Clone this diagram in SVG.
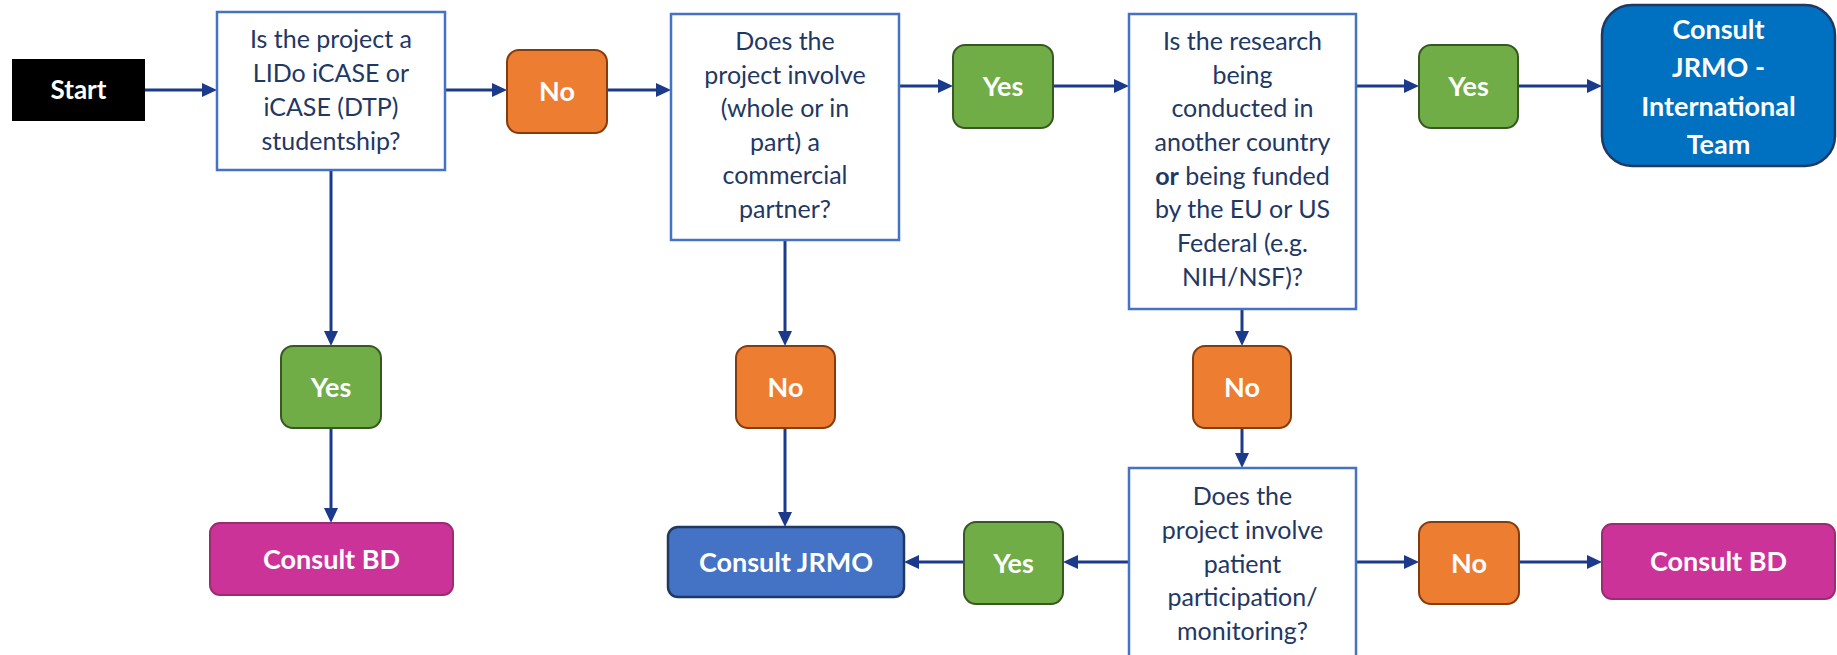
<svg xmlns="http://www.w3.org/2000/svg" width="1837" height="655" viewBox="0 0 1837 655">
<style>
.q{fill:#ffffff;stroke:#4472C4;stroke-width:2.5}
.qt{font-family:Lato,"Open Sans",sans-serif;font-size:25px;fill:#1F3864;text-anchor:middle}
.lbl{font-family:Lato,"Open Sans",sans-serif;font-weight:bold;font-size:27px;fill:#ffffff;text-anchor:middle}
.no{fill:#ED7D31;stroke:#843C0C;stroke-width:2}
.yes{fill:#70AD47;stroke:#385723;stroke-width:2}
.bd{fill:#CC3399;stroke:#9B2C74;stroke-width:2}
.jrmo{fill:#4472C4;stroke:#1F3864;stroke-width:2.5}
.intl{fill:#0070C0;stroke:#1F3864;stroke-width:2.5}
.c{fill:none;stroke:#1C3A8C;stroke-width:3;marker-end:url(#ah)}
</style>
<defs>
<marker id="ah" markerWidth="15" markerHeight="14" refX="10" refY="7" orient="auto" markerUnits="userSpaceOnUse">
<path d="M0,0 L15,7 L0,14 Z" fill="#1C3A8C"/>
</marker>
</defs>
<rect width="1837" height="655" fill="#ffffff"/>
<g id="connectors">
<path class="c" d="M145,90 H212"/>
<path class="c" d="M445,90 H502"/>
<path class="c" d="M607,90 H666"/>
<path class="c" d="M899,86 H948"/>
<path class="c" d="M1053,86 H1124"/>
<path class="c" d="M1356,86 H1414"/>
<path class="c" d="M1518,86 H1597"/>
<path class="c" d="M331,170 V341"/>
<path class="c" d="M331,428 V518"/>
<path class="c" d="M785,240 V341"/>
<path class="c" d="M785,428 V522"/>
<path class="c" d="M1242,309 V341"/>
<path class="c" d="M1242,428 V463"/>
<path class="c" d="M1129,562 H1068"/>
<path class="c" d="M964,562 H909"/>
<path class="c" d="M1356,562 H1414"/>
<path class="c" d="M1519,562 H1597"/>
</g>
<g id="start">
<rect x="12" y="59" width="133" height="62" fill="#000000"/>
<text class="lbl" x="78.5" y="99" style="font-size:26px">Start</text>
</g>
<g id="q1">
<rect class="q" x="217" y="12" width="228" height="158"/>
<text class="qt"><tspan x="331" y="48">Is the project a</tspan><tspan x="331" y="82">LIDo iCASE or</tspan><tspan x="331" y="116">iCASE (DTP)</tspan><tspan x="331" y="150">studentship?</tspan></text>
</g>
<g id="no1">
<rect class="no" x="507" y="50" width="100" height="83" rx="12"/>
<text class="lbl" x="557" y="101">No</text>
</g>
<g id="q2">
<rect class="q" x="671" y="14" width="228" height="226"/>
<text class="qt"><tspan x="785" y="50">Does the</tspan><tspan x="785" y="84">project involve</tspan><tspan x="785" y="117">(whole or in</tspan><tspan x="785" y="151">part) a</tspan><tspan x="785" y="184">commercial</tspan><tspan x="785" y="218">partner?</tspan></text>
</g>
<g id="yes1">
<rect class="yes" x="953" y="45" width="100" height="83" rx="12"/>
<text class="lbl" x="1003" y="96">Yes</text>
</g>
<g id="q3">
<rect class="q" x="1129" y="14" width="227" height="295"/>
<text class="qt"><tspan x="1242.5" y="50">Is the research</tspan><tspan x="1242.5" y="84">being</tspan><tspan x="1242.5" y="117">conducted in</tspan><tspan x="1242.5" y="151">another country</tspan><tspan x="1242.5" y="185"><tspan font-weight="bold">or</tspan> being funded</tspan><tspan x="1242.5" y="218">by the EU or US</tspan><tspan x="1242.5" y="252">Federal (e.g.</tspan><tspan x="1242.5" y="286">NIH/NSF)?</tspan></text>
</g>
<g id="yes2">
<rect class="yes" x="1419" y="45" width="99" height="83" rx="12"/>
<text class="lbl" x="1468.5" y="96">Yes</text>
</g>
<g id="jrmo-intl">
<rect class="intl" x="1602" y="5" width="233" height="161" rx="30"/>
<text class="lbl"><tspan x="1718.5" y="39">Consult</tspan><tspan x="1718.5" y="77">JRMO -</tspan><tspan x="1718.5" y="116">International</tspan><tspan x="1718.5" y="154">Team</tspan></text>
</g>
<g id="yes3">
<rect class="yes" x="281" y="346" width="100" height="82" rx="12"/>
<text class="lbl" x="331" y="397">Yes</text>
</g>
<g id="no2">
<rect class="no" x="736" y="346" width="99" height="82" rx="12"/>
<text class="lbl" x="785.5" y="397">No</text>
</g>
<g id="no3">
<rect class="no" x="1193" y="346" width="98" height="82" rx="12"/>
<text class="lbl" x="1242" y="397">No</text>
</g>
<g id="consult-bd-1">
<rect class="bd" x="210" y="523" width="243" height="72" rx="10"/>
<text class="lbl" x="331.5" y="569">Consult BD</text>
</g>
<g id="consult-jrmo">
<rect class="jrmo" x="668" y="527" width="236" height="70" rx="10"/>
<text class="lbl" x="786" y="572">Consult JRMO</text>
</g>
<g id="q4">
<rect class="q" x="1129" y="468" width="227" height="200"/>
<text class="qt"><tspan x="1242.5" y="505">Does the</tspan><tspan x="1242.5" y="539">project involve</tspan><tspan x="1242.5" y="573">patient</tspan><tspan x="1242.5" y="606">participation/</tspan><tspan x="1242.5" y="640">monitoring?</tspan></text>
</g>
<g id="yes4">
<rect class="yes" x="964" y="522" width="99" height="82" rx="12"/>
<text class="lbl" x="1013.5" y="573">Yes</text>
</g>
<g id="no4">
<rect class="no" x="1419" y="522" width="100" height="82" rx="12"/>
<text class="lbl" x="1469" y="573">No</text>
</g>
<g id="consult-bd-2">
<rect class="bd" x="1602" y="524" width="233" height="75" rx="10"/>
<text class="lbl" x="1718.5" y="571">Consult BD</text>
</g>
</svg>
